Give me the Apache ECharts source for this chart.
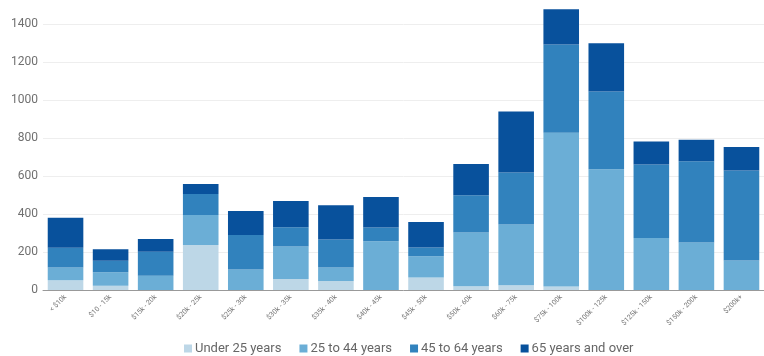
<!DOCTYPE html>
<html>
<head>
<meta charset="utf-8">
<script src="https://cdn.jsdelivr.net/npm/echarts@6/dist/echarts.min.js"></script>
<style>
  html, body { margin: 0; padding: 0; background: #fff; }
  #chart { width: 764px; height: 356px; }
</style>
</head>
<body>
<div id="chart"></div>
<script>
// Household income brackets
const incomeBrackets = ['< $10k', '$10 - 15k', '$15k - 20k', '$20k - 25k', '$25k - 30k', '$30k - 35k',
  '$35k - 40k', '$40k - 45k', '$45k - 50k', '$50k - 60k', '$60k - 75k', '$75k - 100k',
  '$100k - 125k', '$125k - 150k', '$150k - 200k', '$200k+'];

// Households by age of householder
const under25 = [51, 22, 0, 237, 0, 58, 47, 0, 66, 20, 25, 18, 0, 0, 0, 0];
const age25to44 = [68, 71, 75, 158, 108, 171, 72, 257, 111, 283, 320, 810, 636, 274, 250, 155];
const age45to64 = [104, 61, 126, 110, 181, 101, 147, 72, 47, 196, 274, 464, 409, 386, 428, 474];
const age65plus = [157, 60, 67, 53, 127, 138, 180, 160, 134, 164, 321, 185, 254, 122, 113, 124];

const seriesNames = ['Under 25 years', '25 to 44 years', '45 to 64 years', '65 years and over'];
const seriesColors = ['#bdd7e7', '#6baed6', '#3182bd', '#08519c'];
const seriesData = [under25, age25to44, age45to64, age65plus];

const chart = echarts.init(document.getElementById('chart'), null, { renderer: 'canvas' });

chart.setOption({
  animation: false,
  textStyle: { fontFamily: 'Roboto, sans-serif' },
  grid: { left: 43, top: 24, height: 266, width: 731, containLabel: false },
  legend: {
    left: 184,
    top: 342,
    padding: 0,
    itemWidth: 8,
    itemHeight: 8,
    itemGap: 18,
    icon: 'rect',
    textStyle: { fontSize: 13, color: '#666', padding: [0, 0, 0, -2] },
    data: seriesNames
  },
  xAxis: {
    type: 'category',
    data: incomeBrackets,
    axisLine: { lineStyle: { color: '#999' } },
    axisTick: { alignWithLabel: true, length: 3, lineStyle: { color: '#aaa' } },
    axisLabel: { rotate: 45, fontSize: 7, color: '#777', margin: 6, interval: 0 }
  },
  yAxis: {
    type: 'value',
    min: 0,
    max: 1400,
    interval: 200,
    axisLine: { show: false },
    axisTick: { show: false },
    axisLabel: { fontSize: 12, color: '#707070', margin: 5, formatter: v => String(v) },
    splitLine: { lineStyle: { color: '#eeeeee' } }
  },
  series: seriesData.map((d, i) => ({
    name: seriesNames[i],
    type: 'bar',
    stack: 'households',
    data: d,
    clip: false,
    barCategoryGap: '21%',
    itemStyle: { color: seriesColors[i] }
  }))
});
</script>
</body>
</html>
